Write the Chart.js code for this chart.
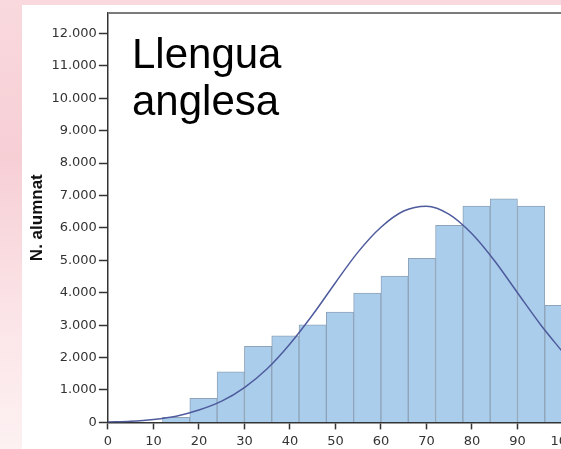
<!DOCTYPE html>
<html lang="ca">
<head>
<meta charset="utf-8">
<title>Llengua anglesa</title>
<script src="https://cdn.jsdelivr.net/npm/chart.js@4.4.0/dist/chart.umd.min.js"></script>
<style>
  html, body {
    margin: 0;
    width: 561px;
    height: 449px;
    overflow: hidden;
  }
  body {
    position: relative;
    background: linear-gradient(to bottom, #f9d9dd 0%, #f6cfd5 35%, #fbe4e7 70%, #fdf1f2 100%);
  }
  #panel {
    position: absolute;
    left: 22px;
    top: 5px;
    width: 700px;
    height: 500px;
    background: #fff;
  }
  #grafic {
    position: absolute;
    left: 0;
    top: 0;
  }
  #titol {
    position: absolute;
    left: 132px;
    top: 30px;
    font-family: "Liberation Sans", Arial, sans-serif;
    font-size: 42px;
    line-height: 47px;
    color: #000;
  }
</style>
</head>
<body>
<div id="panel"></div>
<canvas id="grafic" width="680" height="460"></canvas>
<div id="titol">Llengua<br>anglesa</div>

<script>
// Dades de l'histograma (interval de 6 punts)
const iniciInterval = [12, 18, 24, 30, 36, 42, 48, 54, 60, 66, 72, 78, 84, 90, 96];
const nAlumnat = [160, 740, 1560, 2345, 2673, 3012, 3404, 3990, 4515, 5061, 6080, 6676, 6900, 6676, 3611];
const ampleInterval = 6;

// Corba normal llegida del grafic
const corbaX = [0, 5, 10, 15, 20, 25, 30, 35, 40, 45, 50, 55, 60, 65, 70, 75, 80, 85, 90, 95, 100];
const corbaY = [12, 35, 90, 190, 380, 655, 1075, 1655, 2420, 3320, 4310, 5260, 6020, 6520, 6670, 6420, 5820, 4980, 4000, 3030, 2160];

// Marques dels eixos
const marquesY = [0, 1000, 2000, 3000, 4000, 5000, 6000, 7000, 8000, 9000, 10000, 11000, 12000];
const marquesX = [0, 10, 20, 30, 40, 50, 60, 70, 80, 90, 100, 110, 120];

const barres = iniciInterval.map((inici, i) => ({ x: inici + ampleInterval / 2, y: nAlumnat[i] }));
const corba = corbaX.map((x, i) => ({ x: x, y: corbaY[i] }));

function ambPunts(v) {
  return String(v).replace(/\B(?=(\d{3})+(?!\d))/g, '.');
}

// Marc gris de dalt i de la dreta
const marc = {
  id: 'marc',
  afterDraw(chart) {
    const a = chart.chartArea;
    const ctx = chart.ctx;
    ctx.save();
    ctx.strokeStyle = '#7a7a7a';
    ctx.lineWidth = 2;
    ctx.beginPath();
    ctx.moveTo(a.left, a.top);
    ctx.lineTo(a.right, a.top);
    ctx.lineTo(a.right, a.bottom);
    ctx.stroke();
    ctx.restore();
  }
};

const fontMarques = { family: 'DejaVu Sans', size: 13 };

new Chart(document.getElementById('grafic'), {
  type: 'bar',
  data: {
    datasets: [
      {
        type: 'line',
        data: corba,
        borderColor: '#4e5b9c',
        borderWidth: 1.5,
        pointRadius: 0,
        cubicInterpolationMode: 'monotone',
        fill: false
      },
      {
        type: 'bar',
        data: barres,
        backgroundColor: '#aacdec',
        borderColor: '#8ea3b8',
        borderWidth: 1,
        barPercentage: 1,
        categoryPercentage: 1
      }
    ]
  },
  options: {
    responsive: false,
    animation: false,
    layout: {
      padding: { left: 22, top: 13, right: 26, bottom: 7 }
    },
    plugins: {
      legend: { display: false },
      tooltip: { enabled: false }
    },
    scales: {
      x: {
        type: 'linear',
        min: 0,
        max: 120,
        offset: false,
        afterBuildTicks: (scale) => {
          scale.ticks = marquesX.map(v => ({ value: v }));
        },
        ticks: {
          color: '#333',
          font: fontMarques,
          padding: 4,
          maxRotation: 0,
          autoSkip: false
        },
        grid: {
          offset: false,
          drawOnChartArea: false,
          drawTicks: true,
          tickLength: 7,
          tickColor: '#333',
          tickWidth: 1.5
        },
        border: { color: '#333', width: 1.5 }
      },
      y: {
        min: 0,
        max: 12630,
        afterBuildTicks: (scale) => {
          scale.ticks = marquesY.map(v => ({ value: v }));
        },
        ticks: {
          color: '#333',
          font: fontMarques,
          padding: 2,
          callback: (v) => ambPunts(v)
        },
        grid: {
          drawOnChartArea: false,
          drawTicks: true,
          tickLength: 9,
          tickColor: '#333',
          tickWidth: 1.5
        },
        border: { color: '#333', width: 1.5 },
        title: {
          display: true,
          text: 'N. alumnat',
          color: '#111',
          font: { family: 'Liberation Sans', size: 17, weight: 'bold' },
          padding: { top: 5, bottom: 2 }
        }
      }
    }
  },
  plugins: [marc]
});
</script>
</body>
</html>
